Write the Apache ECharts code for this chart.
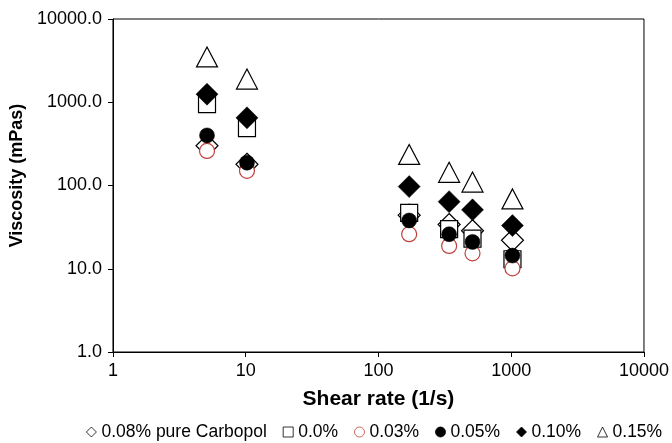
<!DOCTYPE html>
<html>
<head>
<meta charset="utf-8">
<script src="https://cdn.jsdelivr.net/npm/echarts@6/dist/echarts.min.js"></script>
<style>
  html, body { margin: 0; padding: 0; background: #fff; }
  #chart { width: 672px; height: 443px; }
</style>
</head>
<body>
<div id="chart"></div>
<script>
// Fann viscometer shear rates (1/s): 3, 6, 100, 200, 300, 600 rpm
const shearRates = [5.11, 10.22, 170.3, 340.6, 510.9, 1021.8];

// Viscosity (mPas) per formulation
const carbopol008 = [300, 180, 44, 34, 28.6, 22];
const conc000 = [950, 490, 47, 30, 23, 13];
const conc003 = [260, 150, 26, 18.8, 15.3, 10.1];
const conc005 = [400, 188, 38, 26, 21, 14.4];
const conc010 = [1250, 650, 97, 64, 51, 33];
const conc015 = [3500, 1900, 236, 144, 110, 69];

const seriesNames = ['0.08% pure Carbopol', '0.0%', '0.03%', '0.05%', '0.10%', '0.15%'];

const FONT = '"Liberation Sans", Arial, Helvetica, sans-serif';
const RED = '#c0403c';

function pairs(vals) {
  return shearRates.map((x, i) => [x, vals[i]]);
}

const styles = [
  { data: carbopol008, symbol: 'diamond', size: [22, 22], itemStyle: { color: '#fff', borderColor: '#000', borderWidth: 1.2 } },
  { data: conc000, symbol: 'rect', size: [17, 17], itemStyle: { color: '#fff', borderColor: '#000', borderWidth: 1.2 } },
  { data: conc003, symbol: 'circle', size: 15, itemStyle: { color: '#fff', borderColor: RED, borderWidth: 1.2 } },
  { data: conc005, symbol: 'circle', size: 15, itemStyle: { color: '#000', borderColor: '#000', borderWidth: 0.5 } },
  { data: conc010, symbol: 'diamond', size: [22, 22], itemStyle: { color: '#000', borderColor: '#000', borderWidth: 0.5 } },
  { data: conc015, symbol: 'triangle', size: [21, 20], itemStyle: { color: '#fff', borderColor: '#000', borderWidth: 1.2 } }
];

const chart = echarts.init(document.getElementById('chart'), null, { renderer: 'canvas' });

chart.setOption({
  animation: false,
  backgroundColor: '#fff',
  grid: {
    left: 109, right: 25, top: 19, bottom: 91,
    show: true, borderColor: '#000', borderWidth: 1, backgroundColor: 'transparent'
  },
  legend: {
    left: 86,
    top: 423,
    width: 586,
    padding: 0,
    itemWidth: 10,
    itemHeight: 10,
    itemGap: 16,
    itemStyle: { borderWidth: 0.8 },
    textStyle: { fontFamily: FONT, fontSize: 17.5, color: '#000' },
    data: seriesNames.map((n, i) => ({ name: n, icon: styles[i].symbol }))
  },
  xAxis: {
    type: 'log',
    logBase: 10,
    min: 1,
    max: 10000,
    name: 'Shear rate (1/s)',
    nameLocation: 'middle',
    nameGap: 37,
    nameTextStyle: { fontFamily: FONT, fontSize: 21, fontWeight: 'bold', color: '#000' },
    axisLine: { show: true, onZero: false, lineStyle: { color: '#000', width: 1 } },
    axisTick: { show: true, inside: false, length: 5, lineStyle: { color: '#000' } },
    minorTick: { show: false },
    axisLabel: {
      fontFamily: FONT, fontSize: 18, color: '#000', margin: 10,
      formatter: v => String(Math.round(v))
    },
    splitLine: { show: false }
  },
  yAxis: {
    type: 'log',
    logBase: 10,
    min: 1,
    max: 10000,
    name: 'Viscosity (mPas)',
    nameLocation: 'middle',
    nameGap: 76,
    nameTextStyle: { fontFamily: FONT, fontSize: 18, fontWeight: 'bold', color: '#000', padding: [0, 0, 0, 20] },
    axisLine: { show: true, onZero: false, lineStyle: { color: '#000', width: 1 } },
    axisTick: { show: true, inside: false, length: 5, lineStyle: { color: '#000' } },
    axisLabel: {
      fontFamily: FONT, fontSize: 18, color: '#000', margin: 11,
      formatter: v => Number(v).toFixed(1)
    },
    splitLine: { show: false }
  },
  series: seriesNames.map((n, i) => ({
    name: n,
    type: 'scatter',
    data: pairs(styles[i].data),
    symbol: styles[i].symbol,
    symbolSize: styles[i].size,
    itemStyle: Object.assign({ opacity: 1 }, styles[i].itemStyle),
    z: 2 + i,
    emphasis: { disabled: true }
  }))
});
</script>
</body>
</html>
